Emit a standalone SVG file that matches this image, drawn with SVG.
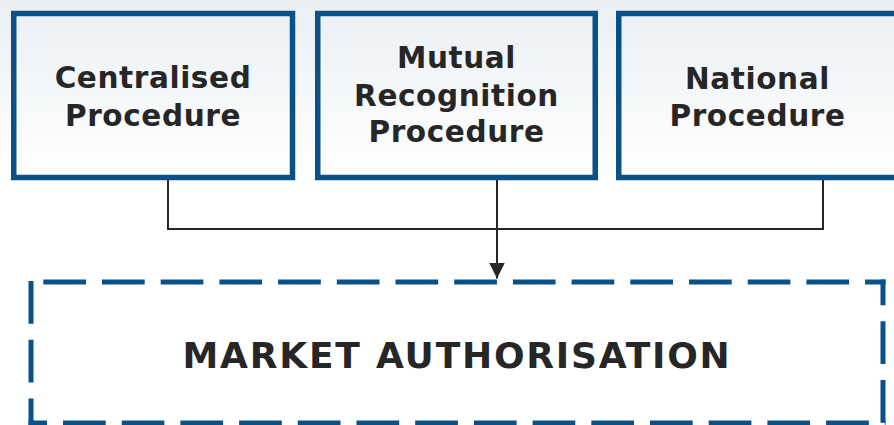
<svg xmlns="http://www.w3.org/2000/svg" width="894" height="425" viewBox="0 0 894 425">
  <defs>
    <linearGradient id="bg" x1="0" y1="0" x2="0" y2="1">
      <stop offset="0" stop-color="#eaeff4"/>
      <stop offset="0.28" stop-color="#f8fafb"/>
      <stop offset="0.42" stop-color="#ffffff"/>
      <stop offset="1" stop-color="#ffffff"/>
    </linearGradient>
    <marker id="arrow" viewBox="0 0 16 16" refX="16" refY="8" markerWidth="16" markerHeight="16" markerUnits="userSpaceOnUse" orient="auto">
      <path d="M0,0 L16,8 L0,16 Z" fill="#262626"/>
    </marker>
    <style>
      .box { fill: none; stroke: #0a5089; stroke-width: 5.5; }
      .dash { fill: none; stroke: #0a5089; stroke-width: 5; stroke-dasharray: 42.7 16; }
      .lbl { font-family: "DejaVu Sans", Verdana, sans-serif; font-weight: bold; font-size: 29.5px; fill: #262626; text-anchor: middle; letter-spacing: 0.6px; }
      .big { font-family: "DejaVu Sans", Verdana, sans-serif; font-weight: bold; font-size: 36px; fill: #262626; text-anchor: middle; letter-spacing: 1.8px; }
      .conn { fill: none; stroke: #262626; stroke-width: 2; }
    </style>
  </defs>
  <rect x="0" y="0" width="894" height="425" fill="url(#bg)"/>

  <g id="centralised">
    <rect class="box" x="13.75" y="13.5" width="278.75" height="164"/>
    <text class="lbl" x="153" y="88">Centralised</text>
    <text class="lbl" x="153" y="125.5">Procedure</text>
  </g>

  <g id="mutual">
    <rect class="box" x="317.75" y="13.5" width="277.5" height="164"/>
    <text class="lbl" x="456.5" y="68">Mutual</text>
    <text class="lbl" x="456.5" y="106">Recognition</text>
    <text class="lbl" x="456.5" y="142">Procedure</text>
  </g>

  <g id="national">
    <rect class="box" x="618.75" y="13.5" width="278" height="164"/>
    <text class="lbl" x="757.5" y="89">National</text>
    <text class="lbl" x="757.5" y="126">Procedure</text>
  </g>

  <g id="connectors">
    <polyline class="conn" points="168,180 168,229 823,229 823,180"/>
    <line class="conn" x1="497" y1="180" x2="497" y2="278.5" marker-end="url(#arrow)"/>
  </g>

  <g id="market-authorisation">
    <line class="dash" x1="28.5" y1="282" x2="885.5" y2="282" stroke-dashoffset="43.9"/>
    <line class="dash" x1="883" y1="279.5" x2="883" y2="425.5" stroke-dashoffset="16.9"/>
    <line class="dash" x1="28.5" y1="423" x2="885.5" y2="423" stroke-dashoffset="24.2"/>
    <line class="dash" x1="31" y1="281" x2="31" y2="425.5" stroke-dashoffset="0"/>
    <text class="big" x="457" y="368">MARKET AUTHORISATION</text>
  </g>
</svg>
